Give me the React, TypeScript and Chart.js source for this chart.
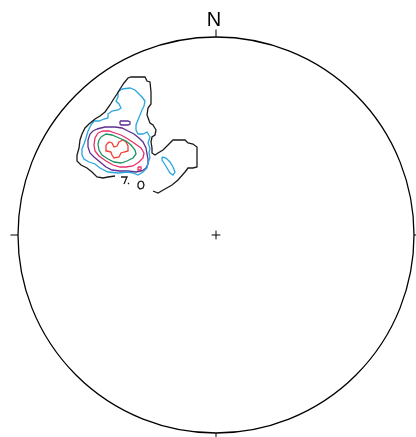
import React, { useEffect, useRef } from "react";
import { Chart, registerables } from "chart.js";

Chart.register(...registerables);

// Net coordinates: origin at the centre of the equal-area net, radius NET_R units.
const NET_R = 198;
const NORTH_LABEL = "N";

type Pt = [number, number];

// Density contour levels (outermost to innermost), each a list of closed or open rings.
const outerLevel: Pt[] = [
  [-101, 59], [-108, 58], [-113, 57], [-119, 58], [-124, 63], [-129, 67], [-135, 70],
  [-139, 74], [-139, 80], [-137, 87], [-136, 95], [-134, 101], [-131, 107], [-127, 111],
  [-121, 116], [-116, 119], [-111, 123], [-106, 130], [-103, 135], [-99, 141], [-96, 146],
  [-92, 152], [-88, 157], [-85, 158], [-71, 158], [-69, 154], [-66, 153], [-65, 143],
  [-65, 131], [-68, 127], [-69, 120], [-66, 112], [-63, 110], [-60, 105], [-61, 100],
  [-64, 98], [-65, 93], [-64, 87], [-64, 82], [-61, 80], [-58, 82], [-53, 85], [-48, 90],
  [-43, 95], [-36, 95], [-31, 95], [-28, 92], [-23, 91], [-19, 88], [-19, 78], [-19, 68],
  [-23, 67], [-28, 67], [-31, 63], [-38, 55], [-44, 50], [-51, 46], [-58, 42], [-63, 44],
];
const outerBitA: Pt[] = [[-95, 58], [-89, 58], [-92, 51]];
const outerBitB: Pt[] = [[-88, 52], [-87, 51]];
const outerBitC: Pt[] = [
  [-75, 54], [-73, 53], [-72, 50], [-73, 47], [-76, 46], [-78, 48], [-78, 51], [-77, 53], [-75, 54],
];

const level2Main: Pt[] = [
  [-94, 146], [-86, 147], [-81, 145], [-77, 141], [-74, 138], [-71, 134], [-72, 129],
  [-74, 125], [-76, 120], [-78, 115], [-80, 110], [-80, 105], [-78, 101], [-73, 101],
  [-69, 103], [-66, 98], [-68, 92], [-66, 87], [-67, 82], [-66, 77], [-68, 72], [-69, 67],
  [-73, 63], [-78, 60], [-83, 62], [-88, 63], [-98, 62], [-108, 63], [-116, 67], [-121, 71],
  [-127, 73], [-132, 76], [-134, 80], [-134, 86], [-132, 91], [-130, 97], [-128, 104],
  [-125, 110], [-122, 114], [-117, 114], [-112, 116], [-108, 117], [-108, 121], [-104, 124],
  [-98, 125], [-95, 127], [-97, 131], [-100, 134], [-98, 138], [-98, 143], [-94, 146],
];
const level2Island: Pt[] = [
  [-54, 78], [-50, 77], [-46, 73], [-43, 68], [-41, 63], [-43, 60], [-46, 62], [-49, 67],
  [-52, 72], [-54, 75], [-54, 78],
];

const level3Main: Pt[] = [
  [-119, 106], [-111, 108], [-101, 108], [-94, 107], [-88, 104], [-82, 101], [-77, 97],
  [-73, 93], [-70, 87], [-69, 81], [-68, 76], [-68, 71], [-70, 67], [-74, 64], [-80, 63],
  [-88, 64], [-96, 64], [-104, 65], [-110, 68], [-116, 73], [-122, 78], [-126, 82],
  [-128, 88], [-128, 95], [-126, 101], [-123, 104], [-119, 106],
];
const level3Island: Pt[] = [
  [-96, 114], [-88, 114], [-86, 113], [-86, 111], [-88, 110], [-95, 110], [-96, 111], [-96, 114],
];

const level4Main: Pt[] = [
  [-118, 102], [-113, 104], [-107, 104], [-101, 102], [-95, 100], [-88, 96], [-82, 92],
  [-75, 87], [-72, 82], [-73, 77], [-77, 73], [-83, 69], [-90, 68], [-96, 68], [-103, 70],
  [-110, 74], [-117, 79], [-121, 84], [-122, 90], [-121, 97], [-118, 102],
];
const level4Island: Pt[] = [[-78, 68], [-75, 68], [-75, 65], [-78, 65], [-78, 68]];

const level5Main: Pt[] = [
  [-115, 98], [-110, 101], [-104, 100], [-97, 97], [-90, 94], [-85, 90], [-81, 85],
  [-80, 81], [-83, 77], [-89, 74], [-95, 72], [-102, 73], [-108, 76], [-114, 80],
  [-117, 85], [-118, 91], [-117, 95], [-115, 98],
];

const level6Main: Pt[] = [
  [-110, 90], [-107, 93], [-104, 92], [-102, 88], [-99, 89], [-97, 93], [-93, 95], [-90, 93],
  [-88, 89], [-88, 84], [-92, 83], [-95, 82], [-97, 78], [-102, 77], [-104, 80], [-105, 83],
  [-109, 84], [-110, 87], [-110, 90],
];

const levelColors = ["#1a1a1a", "#2aa6de", "#5e2d91", "#e5306a", "#1d9462", "#ef3d34"];

const levels: Pt[][][] = [
  [outerLevel, outerBitA, outerBitB, outerBitC],
  [level2Main, level2Island],
  [level3Main, level3Island],
  [level4Main, level4Island],
  [level5Main],
  [level6Main],
];

const netFrame = {
  id: "netFrame",
  afterDatasetsDraw(chart: any) {
    const { ctx, scales } = chart;
    const xs = scales.x;
    const ys = scales.y;
    const cx = xs.getPixelForValue(0);
    const cy = ys.getPixelForValue(0);
    const r = xs.getPixelForValue(NET_R) - cx;
    const tick = r * 0.038;
    const cross = r * 0.022;
    ctx.save();
    ctx.strokeStyle = "#000";
    ctx.lineWidth = 1.3;
    ctx.beginPath();
    ctx.arc(cx, cy, r, 0, Math.PI * 2);
    ctx.stroke();
    ctx.lineWidth = 1;
    ctx.beginPath();
    // cardinal ticks
    ctx.moveTo(cx, cy - r);
    ctx.lineTo(cx, cy - r - tick);
    ctx.moveTo(cx, cy + r);
    ctx.lineTo(cx, cy + r + tick);
    ctx.moveTo(cx - r, cy);
    ctx.lineTo(cx - r - tick, cy);
    ctx.moveTo(cx + r, cy);
    ctx.lineTo(cx + r + tick, cy);
    // centre cross
    ctx.moveTo(cx - cross, cy);
    ctx.lineTo(cx + cross, cy);
    ctx.moveTo(cx, cy - cross);
    ctx.lineTo(cx, cy + cross);
    ctx.stroke();
    ctx.fillStyle = "#000";
    ctx.font = "20px 'Liberation Sans', Arial, sans-serif";
    ctx.textAlign = "center";
    ctx.textBaseline = "alphabetic";
    ctx.fillText(NORTH_LABEL, cx - 2, cy - r - tick - 3);
    ctx.restore();
  },
};

export default function App() {
  const canvasRef = useRef<HTMLCanvasElement | null>(null);

  useEffect(() => {
    const canvas = canvasRef.current;
    if (!canvas) return;
    const datasets: any[] = [];
    levels.forEach((rings, i) => {
      rings.forEach((ring) => {
        datasets.push({
          data: ring.map(([x, y]) => ({ x, y })),
          showLine: true,
          borderColor: levelColors[i],
          borderWidth: 1.3,
          pointRadius: 0,
          tension: 0,
          fill: false,
        });
      });
    });
    const chart = new Chart(canvas, {
      type: "scatter",
      data: { datasets },
      options: {
        animation: false,
        responsive: false,
        maintainAspectRatio: false,
        devicePixelRatio: 1,
        layout: { padding: 0 },
        events: [],
        scales: {
          x: { type: "linear", min: -216, max: 200, display: false },
          y: { type: "linear", min: -202, max: 235, display: false },
        },
        plugins: { legend: { display: false }, tooltip: { enabled: false } },
      },
      plugins: [netFrame],
    });
    return () => chart.destroy();
  }, []);

  return (
    <div style={{ position: "fixed", left: 0, top: 0, width: 416, height: 437, background: "#fff" }}>
      <canvas ref={canvasRef} width={416} height={437} style={{ display: "block" }} />
    </div>
  );
}
